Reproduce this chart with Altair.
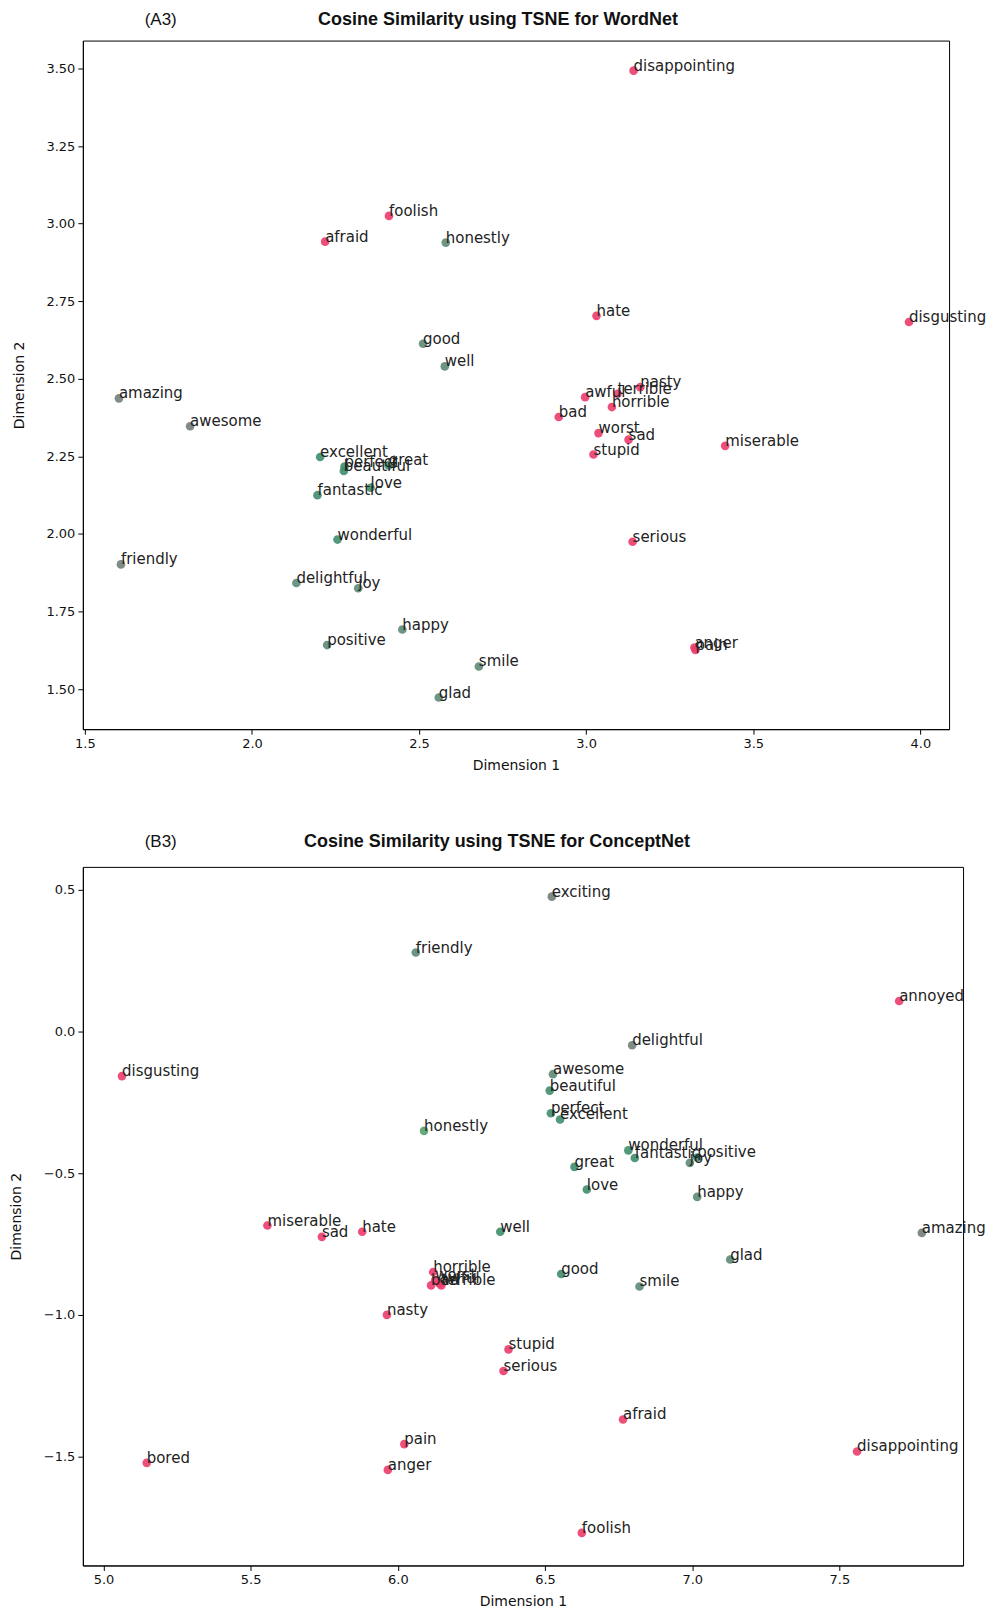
import altair as alt
import pandas as pd

# ---------------- Panel A3 (WordNet) ----------------
a_words = ["disappointing", "foolish", "afraid", "honestly", "hate", "disgusting", "good", "well",
           "amazing", "awesome", "awful", "terrible", "nasty", "horrible", "bad", "worst", "sad",
           "stupid", "miserable", "excellent", "perfect", "beautiful", "great", "love", "fantastic",
           "wonderful", "friendly", "delightful", "joy", "happy", "positive", "smile", "glad",
           "serious", "pain", "anger"]
a_x = [3.142, 2.410, 2.219, 2.580, 3.031, 3.966, 2.512, 2.577,
       1.602, 1.815, 2.997, 3.094, 3.162, 3.077, 2.918, 3.037, 3.127,
       3.022, 3.416, 2.204, 2.277, 2.275, 2.409, 2.355, 2.196,
       2.256, 1.608, 2.133, 2.318, 2.450, 2.225, 2.679, 2.559,
       3.139, 3.327, 3.324]
a_y = [3.493, 3.025, 2.942, 2.939, 2.703, 2.683, 2.613, 2.540,
       2.437, 2.347, 2.441, 2.452, 2.473, 2.409, 2.377, 2.325, 2.304,
       2.256, 2.284, 2.248, 2.217, 2.203, 2.221, 2.149, 2.125,
       1.982, 1.902, 1.842, 1.825, 1.692, 1.642, 1.573, 1.473,
       1.975, 1.626, 1.634]
a_tone = ["neg", "neg", "neg", "gg", "neg", "neg", "gg", "gg",
          "gray", "gray", "neg", "neg", "neg", "neg", "neg", "neg", "neg",
          "neg", "neg", "green", "green", "green", "green", "green", "green",
          "green", "gray", "gg", "gg", "gg", "gg", "gg", "gg",
          "neg", "neg", "neg"]
a_xticks = [1.5, 2.0, 2.5, 3.0, 3.5, 4.0]
a_yticks = [1.50, 1.75, 2.00, 2.25, 2.50, 2.75, 3.00, 3.25, 3.50]

# ---------------- Panel B3 (ConceptNet) ----------------
b_words = ["exciting", "friendly", "annoyed", "delightful", "disgusting", "awesome", "beautiful",
           "perfect", "excellent", "honestly", "wonderful", "fantastic", "joy", "positive", "great",
           "love", "happy", "amazing", "miserable", "sad", "hate", "well", "glad", "horrible",
           "good", "smile", "worst", "bad", "awful", "terrible", "nasty", "stupid", "serious",
           "afraid", "pain", "disappointing", "bored", "anger", "foolish"]
b_x = [6.523, 6.061, 7.703, 6.796, 5.063, 6.527, 6.516,
       6.520, 6.551, 6.089, 6.783, 6.805, 6.992, 7.017, 6.600,
       6.642, 7.017, 7.780, 5.557, 5.742, 5.879, 6.348, 7.129, 6.120,
       6.555, 6.821, 6.127, 6.113, 6.141, 6.148, 5.963, 6.376, 6.359,
       6.765, 6.022, 7.560, 5.147, 5.966, 6.625]
b_y = [0.475, 0.278, 0.107, -0.049, -0.158, -0.151, -0.209,
       -0.289, -0.311, -0.351, -0.420, -0.447, -0.464, -0.445, -0.478,
       -0.558, -0.584, -0.711, -0.685, -0.725, -0.707, -0.707, -0.805, -0.849,
       -0.856, -0.900, -0.878, -0.896, -0.889, -0.896, -1.000, -1.122, -1.198,
       -1.369, -1.456, -1.482, -1.522, -1.547, -1.769]
b_tone = ["gray", "gg", "neg", "gray", "neg", "gg", "green",
          "green", "green", "lg", "green", "green", "gg", "green", "green",
          "green", "gg", "gray", "neg", "neg", "neg", "green", "gg", "neg",
          "green", "gg", "neg", "neg", "neg", "neg", "neg", "neg", "neg",
          "neg", "neg", "neg", "neg", "neg", "neg"]
b_xticks = [5.0, 5.5, 6.0, 6.5, 7.0, 7.5]
b_yticks = [-1.5, -1.0, -0.5, 0.0, 0.5]

tone_domain = ["neg", "green", "gg", "gray", "lg"]
tone_range = ["#ec3c6c", "#3f8d6b", "#5c8a76", "#737e79", "#58a06a"]


def panel(words, xs, ys, tones, xdom, ydom, xticks, yticks, yfmt, w, h, title, tdx, tag, tagx, ty):
    df = pd.DataFrame({"word": words, "x": xs, "y": ys, "tone": tones})
    base = alt.Chart(df)
    xenc = alt.X("x:Q", scale=alt.Scale(domain=xdom, nice=False, zero=False),
                 axis=alt.Axis(values=xticks, format=".1f", title="Dimension 1"))
    yenc = alt.Y("y:Q", scale=alt.Scale(domain=ydom, nice=False, zero=False),
                 axis=alt.Axis(values=yticks, format=yfmt, title="Dimension 2"))
    pts = base.mark_circle(size=75, opacity=0.9).encode(
        x=xenc, y=yenc,
        color=alt.Color("tone:N", scale=alt.Scale(domain=tone_domain, range=tone_range), legend=None),
    )
    txt = base.mark_text(align="left", baseline="alphabetic", fontSize=15,
                         font="DejaVu Sans", color="#222222").encode(
        x="x:Q", y="y:Q", text="word:N")
    tagc = alt.Chart(pd.DataFrame({"t": [tag]})).mark_text(
        align="center", baseline="middle", fontSize=17, font="Liberation Sans", color="#111111"
    ).encode(x=alt.value(tagx), y=alt.value(ty), text="t:N")
    titc = alt.Chart(pd.DataFrame({"t": [title]})).mark_text(
        align="center", baseline="middle", fontSize=18, fontWeight="bold",
        font="Liberation Sans", color="#111111"
    ).encode(x=alt.value(w / 2 + tdx), y=alt.value(ty), text="t:N")
    return alt.layer(pts, txt, tagc, titc).properties(width=w, height=h)


top = panel(a_words, a_x, a_y, a_tone, [1.494, 4.086], [1.371, 3.590], a_xticks, a_yticks, ".2f",
            868, 690, "Cosine Similarity using TSNE for WordNet", -18, "(A3)", 78, -21)
bottom = panel(b_words, b_x, b_y, b_tone, [4.930, 7.920], [-1.884, 0.580], b_xticks, b_yticks, ".1f",
               882, 700, "Cosine Similarity using TSNE for ConceptNet", -26, "(B3)", 78, -25)

chart = alt.vconcat(top, bottom, spacing=59, padding=0, background="white").configure_view(
    stroke="#000000", strokeWidth=1
).configure_axis(
    grid=False, domainColor="#000000", tickColor="#000000", tickSize=5,
    labelColor="#111111", titleColor="#111111", labelFont="DejaVu Sans", titleFont="DejaVu Sans",
    labelFontSize=13, titleFontSize=14, titleFontWeight="normal", labelPadding=3,
).configure_axisX(titlePadding=8).configure_axisY(titlePadding=20)

chart.save("out.html", embed_options={"renderer": "svg", "actions": False})
